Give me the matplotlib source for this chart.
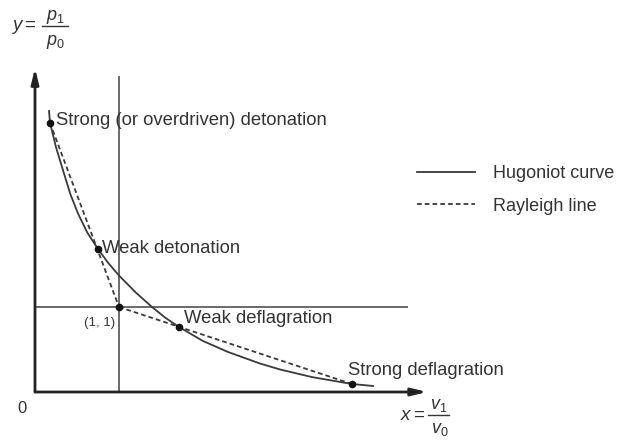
import matplotlib
matplotlib.use("Agg")
import matplotlib.pyplot as plt
from matplotlib.lines import Line2D

plt.rcParams["font.family"] = ["Liberation Sans", "DejaVu Sans"]
plt.rcParams["mathtext.fontset"] = "custom"
plt.rcParams["mathtext.rm"] = "Liberation Sans"
plt.rcParams["mathtext.it"] = "Liberation Sans:italic"

# Hugoniot curve, y = p1/p0 against x = v1/v0
hug_x = [0.167, 0.179, 0.25, 0.333, 0.42, 0.512, 0.62, 0.75, 0.87, 1.0, 1.2,
         1.393, 1.55, 1.714, 2.0, 2.3, 2.679, 2.917, 3.3, 3.774, 4.024]
hug_y = [3.306, 3.165, 2.88, 2.61, 2.33, 2.10, 1.88, 1.682, 1.52, 1.37, 1.17,
         1.0, 0.875, 0.765, 0.60, 0.47, 0.335, 0.265, 0.175, 0.094, 0.071]

# Initial state and the four end states on the curve
init_x, init_y = 1.0, 1.0
state_names = ["Strong (or overdriven) detonation", "Weak detonation",
               "Weak deflagration", "Strong deflagration"]
state_x = [0.179, 0.75, 1.714, 3.774]
state_y = [3.165, 1.682, 0.765, 0.094]

# Axis extents
x_axis_end = 4.667
y_axis_end = 3.81
vline_top = 3.706
hline_end = 4.43

ink = "#222222"
txt = "#333333"
grey = "#6a6a6a"
curve_c = "#3a3a3a"
dash = (0, (2.6, 1.7))

W, H = 619, 441
fig = plt.figure(figsize=(W / 100, H / 100), dpi=100)
ax = fig.add_axes([0, 0, 1, 1])
ax.set_xlim(-35 / 84, (W - 35) / 84)
ax.set_ylim(-(H - 392) / 85, 392 / 85)
ax.axis("off")


def fpos(px, py):
    """Figure-fraction position from pixel offsets measured from the top left."""
    return px / W, 1 - py / H


# coordinate axes with arrow heads
arrow = dict(arrowstyle="-|>,head_length=0.9,head_width=0.22",
             color=ink, lw=2.0, shrinkA=0, shrinkB=0)
ax.annotate("", xy=(x_axis_end, 0), xytext=(0, 0), arrowprops=arrow)
ax.annotate("", xy=(0, y_axis_end), xytext=(0, 0), arrowprops=arrow)

# reference lines through the initial state
ax.plot([init_x, init_x], [0, vline_top], color=grey, lw=1.4)
ax.plot([0, hline_end], [init_y, init_y], color=grey, lw=1.4)

# Hugoniot curve
ax.plot(hug_x, hug_y, color=curve_c, lw=1.3)

# Rayleigh lines through the initial state
ax.plot([state_x[0], init_x], [state_y[0], init_y], color=curve_c, lw=1.3,
        ls=dash)
ax.plot([init_x, state_x[3]], [init_y, state_y[3]], color=curve_c, lw=1.3,
        ls=dash)

# state points
ax.plot(state_x + [init_x], state_y + [init_y], "o", color="#111111", ms=4.5)

fs = 13.3
offsets = [(0.07, 0.03), (0.05, 0.01), (0.06, 0.1), (-0.05, 0.16)]
for name, sx, sy, (dx, dy) in zip(state_names, state_x, state_y, offsets):
    ax.text(sx + dx, sy + dy, name, fontsize=fs, color=txt, va="center",
            ha="left")
ax.text(init_x - 0.05, init_y - 0.19, "(1, 1)", fontsize=9.5, color=txt,
        ha="right", va="center")

# origin
ax.text(-0.16, -0.19, "0", fontsize=12, color=txt, ha="center", va="center")


def fraction_label(lhs, num, den, x_lhs, x_bar0, x_bar1, y_bar, dy_num, dy_den):
    fig.text(*fpos(x_lhs, y_bar + 1), lhs, fontsize=13.5, color=txt,
             ha="center", va="center")
    fig.add_artist(Line2D([x_bar0 / W, x_bar1 / W], [1 - y_bar / H] * 2,
                          transform=fig.transFigure, color=txt, lw=1.0))
    xc = (x_bar0 + x_bar1) / 2
    fig.text(*fpos(xc, y_bar - dy_num), num, fontsize=13, color=txt,
             ha="center", va="center")
    fig.text(*fpos(xc + 1, y_bar + dy_den), den, fontsize=13, color=txt,
             ha="center", va="center")


# axis quantity labels
fraction_label(r"$y=$", r"$p_1$", r"$p_0$", 24, 42, 68, 26, 9, 16)
fraction_label(r"$x=$", r"$v_1$", r"$v_0$", 413, 428, 449, 415, 10, 15)

# legend
handles = [Line2D([], [], color=curve_c, lw=1.3),
           Line2D([], [], color=curve_c, lw=1.3, ls=dash)]
ax.legend(handles, ["Hugoniot curve", "Rayleigh line"], loc="upper left",
          bbox_to_anchor=(401 / W, 1 - 149 / H), frameon=False,
          fontsize=13.0, handlelength=3.2, handletextpad=0.97,
          labelspacing=0.85, labelcolor=txt)

fig.savefig("out.png", dpi=100)
